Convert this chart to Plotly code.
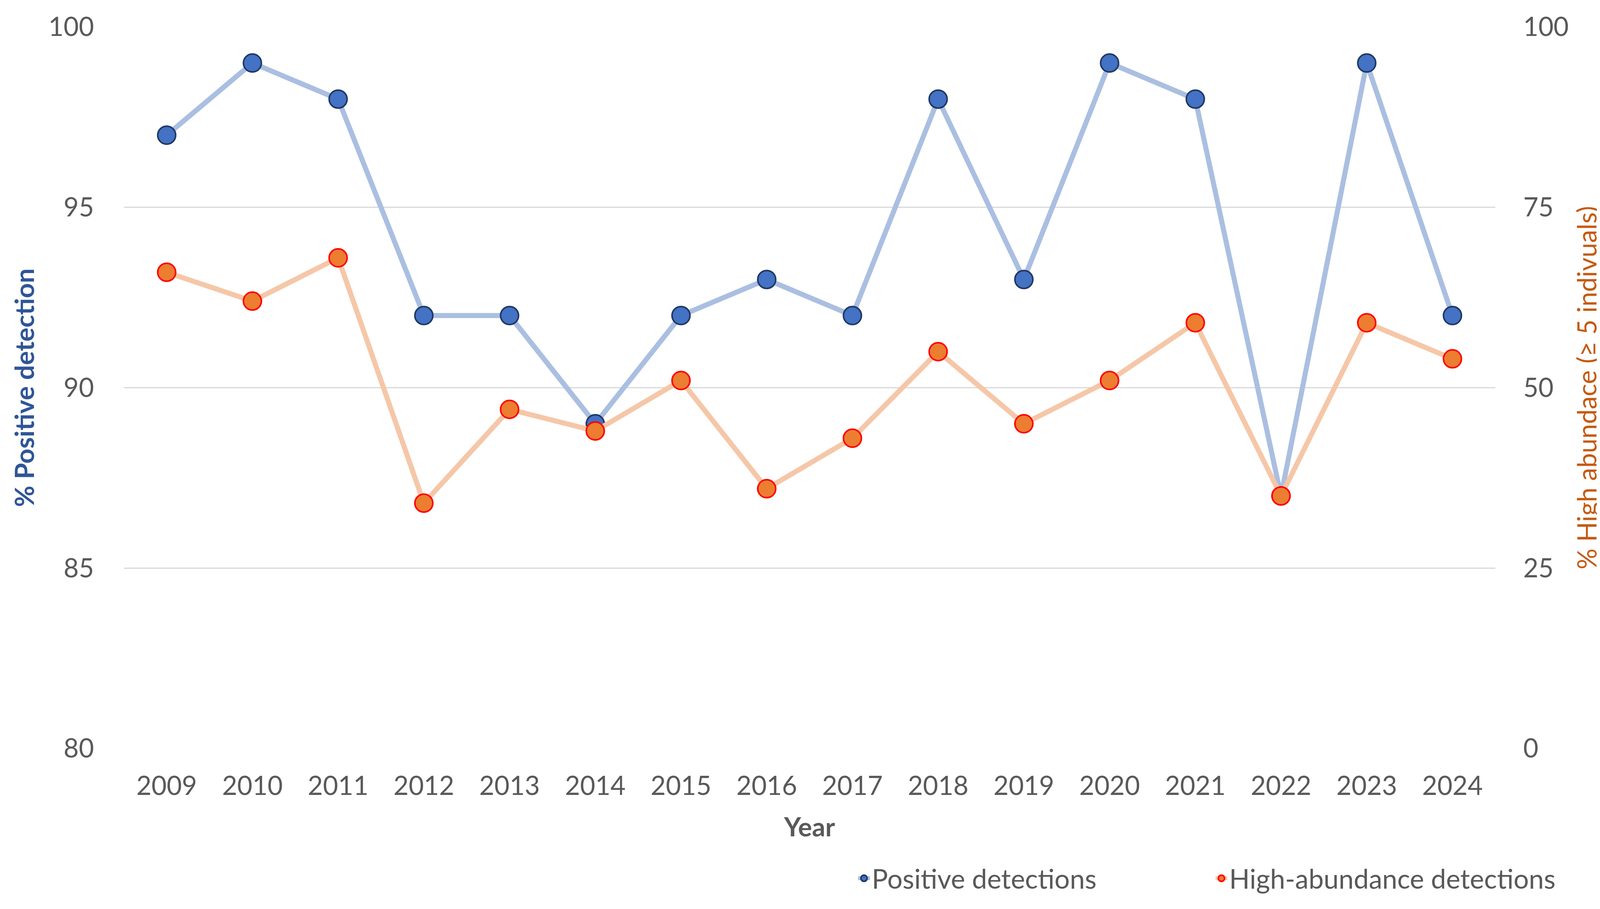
import plotly.graph_objects as go

years = ["2009", "2010", "2011", "2012", "2013", "2014", "2015", "2016",
         "2017", "2018", "2019", "2020", "2021", "2022", "2023", "2024"]
positive = [97, 99, 98, 92, 92, 89, 92, 93, 92, 98, 93, 99, 98, 87, 99, 92]
high_abundance = [66, 62, 68, 34, 47, 44, 51, 36, 43, 55, 45, 51, 59, 35, 59, 54]

left_ticks = [80, 85, 90, 95, 100]
right_ticks = [0, 25, 50, 75, 100]

FONT = "Lato"
TICK_COLOR = "#595959"
FS = 67

fig = go.Figure()
fig.add_trace(go.Scatter(
    x=years, y=positive, name="Positive detections", mode="lines+markers",
    line=dict(color="#AABFE1", width=13),
    marker=dict(size=46, color="#4472C4", line=dict(color="#1F3864", width=4)),
    yaxis="y",
))
fig.add_trace(go.Scatter(
    x=years, y=high_abundance, name="High-abundance detections", mode="lines+markers",
    line=dict(color="#F5C7A8", width=13),
    marker=dict(size=46, color="#ED7D31", line=dict(color="#FF0000", width=4)),
    yaxis="y2",
))

fig.update_layout(
    width=4140, height=2304,
    margin=dict(l=309, r=320, t=61, b=383),
    paper_bgcolor="white", plot_bgcolor="white",
    font=dict(family=FONT, size=FS, color=TICK_COLOR),
    xaxis=dict(
        type="category", range=[-0.5, 15.5], showgrid=False, showline=False, zeroline=False,
        ticks="outside", ticklen=0, ticklabelstandoff=38,
        tickfont=dict(family=FONT, size=FS, color=TICK_COLOR),
        title=dict(text="<b>Year</b>", font=dict(family=FONT, size=FS, color=TICK_COLOR), standoff=45),
    ),
    yaxis=dict(
        range=[80, 100], tickvals=left_ticks, showgrid=True, gridcolor="#D9D9D9", gridwidth=3,
        zeroline=False, showline=False, ticks="outside", ticklen=0, ticklabelstandoff=62,
        tickfont=dict(family=FONT, size=FS, color=TICK_COLOR),
        title=dict(text="<b>% Positive detection</b>", font=dict(family=FONT, size=FS, color="#2F5597"), standoff=14),
    ),
    yaxis2=dict(
        range=[0, 100], tickvals=right_ticks, overlaying="y", side="right", showgrid=False,
        zeroline=False, showline=False, ticks="outside", ticklen=0, ticklabelstandoff=57,
        tickfont=dict(family=FONT, size=FS, color=TICK_COLOR),
        title=dict(text="% High abundace (≥ 5 indivuals)", font=dict(family=FONT, size=FS, color="#C55A11"), standoff=25),
    ),
    legend=dict(
        orientation="h", x=0.534, xanchor="left", y=-0.18, yanchor="middle",
        font=dict(family=FONT, size=69, color=TICK_COLOR),
        entrywidth=870, entrywidthmode="pixels",
        bgcolor="rgba(0,0,0,0)",
    ),
    showlegend=True,
)

fig.write_html("out.html")
